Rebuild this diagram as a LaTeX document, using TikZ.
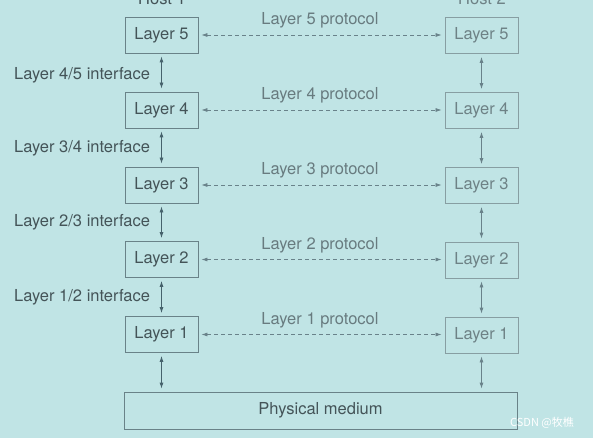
\documentclass[tikz,border=0pt]{standalone}
\usepackage{fontspec}
\setmainfont{TeX Gyre Heros}
\newfontfamily\cjk{Noto Sans CJK SC}
\usetikzlibrary{arrows.meta}
\definecolor{bgcol}{RGB}{192,228,229}
\definecolor{lineL}{RGB}{70,98,108}
\definecolor{lineR}{RGB}{105,130,138}
\definecolor{txtL}{RGB}{68,84,88}
\definecolor{txtR}{RGB}{110,130,134}
\definecolor{boxL}{RGB}{105,130,136}
\definecolor{boxR}{RGB}{135,158,162}
\tikzset{
  layerbox/.style={draw=boxL, line width=0.8pt, minimum width=73pt, minimum height=36pt, inner sep=0pt, text=txtL, font=\fontsize{16.5}{19}\selectfont},
  layerboxR/.style={layerbox, draw=boxR, text=txtR},
  lbl/.style={text=txtL, font=\fontsize{16.5}{19}\selectfont, inner sep=0pt},
  vlink/.style={line width=0.8pt, draw=lineL, {Latex[length=6pt,width=4pt]}-{Latex[length=6pt,width=4pt]}, shorten <=3pt, shorten >=3pt},
  vlinkR/.style={vlink, draw=lineR},
  plink/.style={line width=0.7pt, draw=lineR, dash pattern=on 4pt off 3pt, {Latex[length=6pt,width=4pt]}-{Latex[length=6pt,width=4pt]}, shorten <=3pt, shorten >=3pt}
}
\begin{document}
\begin{tikzpicture}[x=1pt,y=-1pt]
\fill[bgcol] (0,0) rectangle (593,438);
\useasboundingbox (0,0) rectangle (593,438);
% hosts
\node[lbl, anchor=base] (h1) at (162,5) {Host 1};
\node[lbl, anchor=base, text=txtR] (h2) at (482,5) {Host 2};
% boxes
\foreach \i/\y in {5/35, 4/110, 3/185, 2/259.5, 1/334.5} {
  \node[layerbox] (L\i) at (161.5,\y) {Layer \i};
  \node[layerboxR] (R\i) at (481.5,\y+0.5) {Layer \i};
}
\node[layerbox, minimum width=393pt, minimum height=37pt] (pm) at (320.5,410.5) {Physical medium};
% vertical links
\foreach \a/\b in {5/4, 4/3, 3/2, 2/1} {
  \draw[vlink] (L\a) -- (L\b);
  \draw[vlinkR] (R\a) -- (R\b);
}
\draw[vlink] (L1) -- (L1 |- pm.north);
\draw[vlinkR] (R1) -- (R1 |- pm.north);
% protocols
\foreach \i/\y in {5/25, 4/100, 3/175, 2/249, 1/324} {
  \draw[plink] (L\i) -- (R\i.west |- L\i);
  \node[lbl, anchor=base, text=txtR!85!txtL] (p\i) at (320,\y) {Layer \i\ protocol};
}
% interfaces
\node[lbl, anchor=base west] (i45) at (14,79.5) {Layer 4/5 interface};
\node[lbl, anchor=base west] (i34) at (14,152.5) {Layer 3/4 interface};
\node[lbl, anchor=base west] (i23) at (14,226.5) {Layer 2/3 interface};
\node[lbl, anchor=base west] (i12) at (14,301.5) {Layer 1/2 interface};
% watermark
\node[anchor=base west, inner sep=0pt, text=white, font=\cjk\fontsize{11}{13}\selectfont] (wm) at (510,426) {CSDN @牧樵};
\end{tikzpicture}
\end{document}
